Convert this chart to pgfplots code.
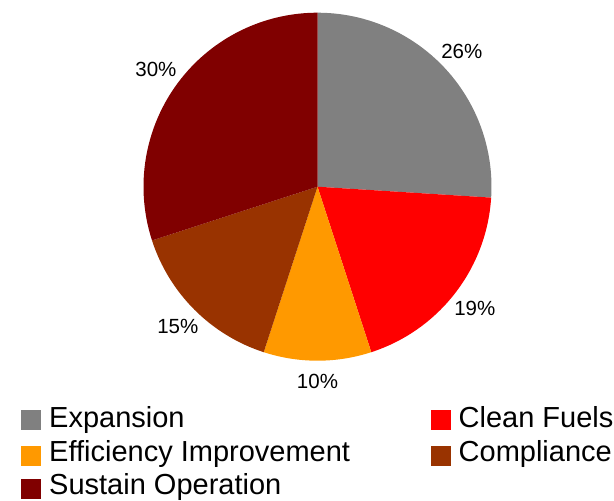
\documentclass[border=0pt]{standalone}
\usepackage{pgfplots}
\pgfplotsset{compat=1.18}
\usepackage{pgfplotstable}
\usepackage{fontspec}
\setmainfont{Liberation Sans}

\definecolor{colA}{HTML}{808080}
\definecolor{colB}{HTML}{FF0000}
\definecolor{colC}{HTML}{FF9900}
\definecolor{colD}{HTML}{993300}
\definecolor{colE}{HTML}{800000}

\newcommand\legfont{\fontsize{29}{33}\selectfont}
\newcommand\labfont{\fontsize{20.5}{24}\selectfont}

% share of each category, in percent
\pgfplotstableread{
key name value
A Expansion 26
B {Clean Fuels} 19
C {Efficiency Improvement} 10
D Compliance 15
E {Sustain Operation} 30
}\pietable

\begin{document}
\begin{tikzpicture}
% start, end and middle angle of every slice, clockwise from 12 o'clock
\gdef\cum{0}
\foreach \i in {0,...,4}{%
  \pgfplotstablegetelem{\i}{key}\of\pietable \let\k\pgfplotsretval
  \pgfplotstablegetelem{\i}{name}\of\pietable
  \expandafter\xdef\csname nm\k\endcsname{\pgfplotsretval}%
  \pgfplotstablegetelem{\i}{value}\of\pietable \let\v\pgfplotsretval
  \pgfmathsetmacro\sa{90-3.6*\cum}%
  \pgfmathsetmacro\ea{90-3.6*(\cum+\v)}%
  \pgfmathsetmacro\ma{(\sa+\ea)/2}%
  \pgfmathtruncatemacro\la{round(\ma+180)}%
  \pgfmathsetmacro\nc{\cum+\v}%
  \expandafter\xdef\csname sa\k\endcsname{\sa}%
  \expandafter\xdef\csname ea\k\endcsname{\ea}%
  \expandafter\xdef\csname ma\k\endcsname{\ma}%
  \expandafter\xdef\csname la\k\endcsname{\la}%
  \expandafter\xdef\csname pv\k\endcsname{\v}%
  \xdef\cum{\nc}%
}
\begin{axis}[
  scale only axis, x=1pt, y=1pt,
  xmin=0, xmax=614, ymin=0, ymax=500,
  hide axis, clip=false,
]
\path (axis cs:0,0) rectangle (axis cs:614,500);
% slices and their percentage labels
\pgfplotsinvokeforeach{A,B,C,D,E}{
  \fill[col#1] (axis cs:317.5,313.3) -- +(\csname sa#1\endcsname:174pt)
    arc[start angle=\csname sa#1\endcsname, end angle=\csname ea#1\endcsname, radius=174pt] -- cycle;
  \path (axis cs:317.5,313.3) ++(\csname ma#1\endcsname:187pt)
    node[anchor=\csname la#1\endcsname, inner sep=0pt, font=\labfont] {\csname pv#1\endcsname\%};
}
% legend
\fill[colA] (axis cs:21,70.3) rectangle (axis cs:41,90.3);
\node[anchor=base west, inner sep=0pt, font=\legfont] at (axis cs:49,72.7) {\nmA};
\fill[colB] (axis cs:431,70.3) rectangle (axis cs:451,90.3);
\node[anchor=base west, inner sep=0pt, font=\legfont] at (axis cs:458.5,72.7) {\nmB};
\fill[colC] (axis cs:21,34.3) rectangle (axis cs:41,54.3);
\node[anchor=base west, inner sep=0pt, font=\legfont] at (axis cs:49,38.3) {\nmC};
\fill[colD] (axis cs:431,34.3) rectangle (axis cs:451,54.3);
\node[anchor=base west, inner sep=0pt, font=\legfont] at (axis cs:458.5,38.3) {\nmD};
\fill[colE] (axis cs:21,1) rectangle (axis cs:41,21);
\node[anchor=base west, inner sep=0pt, font=\legfont] at (axis cs:49,5.7) {\nmE};
\end{axis}
\end{tikzpicture}
\end{document}
